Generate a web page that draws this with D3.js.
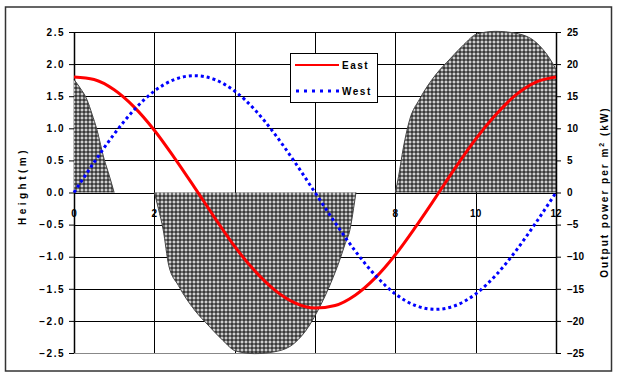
<!DOCTYPE html>
<html>
<head>
<meta charset="utf-8">
<script src="https://cdn.jsdelivr.net/npm/d3@7/dist/d3.min.js"></script>
<style>
  html, body { margin: 0; padding: 0; background: #fff; }
  svg { display: block; }
  .tick text { font-family: "Liberation Sans", Arial, sans-serif; font-size: 10px; font-weight: bold; fill: #000; }
  .left-axis .tick text { letter-spacing: 1.5px; }
</style>
</head>
<body>
<svg id="chart" width="618" height="376"></svg>
<script>
// Tidal heights (m) on the east and west side of the barrage, every half hour
const hours = [0,0.5,1,1.5,2,2.5,3,3.5,4,4.5,5,5.5,6,6.5,7,7.5,8,8.5,9,9.5,10,10.5,11,11.5,12];
const eastHeight = [1.80,1.76,1.60,1.33,0.97,0.54,0.08,-0.39,-0.84,-1.22,-1.52,-1.72,-1.80,-1.76,-1.60,-1.33,-0.97,-0.54,-0.08,0.39,0.83,1.21,1.52,1.72,1.80];
const westHeight = [0,0.47,0.91,1.29,1.58,1.76,1.82,1.76,1.58,1.29,0.91,0.47,0,-0.47,-0.91,-1.29,-1.58,-1.76,-1.82,-1.76,-1.58,-1.29,-0.91,-0.47,0];

// Output power per square metre (kW); null separates the generating periods
const powerHours = [0,0.15,0.32,0.45,0.57,0.75,0.87,1.0,
  null,
  2.0,2.1,2.22,2.36,2.6,3.0,3.36,3.7,4.03,4.5,5.0,5.5,5.85,6.0,6.2,6.4,6.6,6.75,6.87,6.96,7.02,
  null,
  8.0,8.08,8.2,8.36,8.6,9.0,9.36,9.7,10.03,10.5,11.0,11.5,11.85,12.0];
const powerOutput = [17.6,16.3,14.5,12.2,9.8,5.2,2.8,0,
  null,
  0,-2.5,-5.8,-11.4,-14.5,-18.3,-20.8,-23.0,-24.7,-25.1,-24.8,-23.4,-20.8,-19.2,-16.8,-14.0,-10.8,-8.0,-5.8,-2.5,0,
  null,
  0,2.5,7.0,11.4,14.5,18.3,20.8,23.0,24.7,25.1,24.8,23.4,20.8,19.2];

const xTicks = [0,2,4,6,8,10,12];
const heightTicks = [2.5,2.0,1.5,1.0,0.5,0,-0.5,-1.0,-1.5,-2.0,-2.5];
const powerTicks = [25,20,15,10,5,0,-5,-10,-15,-20,-25];
const seriesNames = ["East","West"];

const svg = d3.select("#chart");
const plotLeft = 74, plotRight = 556, plotTop = 32, plotBottom = 353;
const font = "'Liberation Sans', Arial, sans-serif";

const x = d3.scaleLinear().domain([0,12]).range([plotLeft,plotRight]);
const yH = d3.scaleLinear().domain([-2.5,2.5]).range([plotBottom,plotTop]);
const yP = d3.scaleLinear().domain([-25,25]).range([plotBottom,plotTop]);

// outer frame
svg.append("rect").attr("x",5.5).attr("y",7).attr("width",606).attr("height",364)
  .attr("fill","#fff").attr("stroke","#333").attr("stroke-width",1.5);

// cross-hatch pattern for the power area
const defs = svg.append("defs");
const pat = defs.append("pattern").attr("id","hatch").attr("patternUnits","userSpaceOnUse")
  .attr("width",4).attr("height",4);
pat.append("rect").attr("width",4).attr("height",4).attr("fill","#3a3a3a");
pat.append("rect").attr("x",0.5).attr("y",1.5).attr("width",3).attr("height",1).attr("fill","#fff");
pat.append("rect").attr("x",1.5).attr("y",0.5).attr("width",1).attr("height",3).attr("fill","#fff");

// gridlines
const grid = svg.append("g");
grid.selectAll("line.h").data(heightTicks).join("line")
  .attr("x1",plotLeft).attr("x2",plotRight)
  .attr("y1",d => Math.round(yH(d))+0.5).attr("y2",d => Math.round(yH(d))+0.5)
  .attr("stroke",d => d === -2.5 ? "#888" : "#000").attr("stroke-width",1);
grid.selectAll("line.v").data(xTicks).join("line")
  .attr("y1",plotTop).attr("y2",plotBottom)
  .attr("x1",d => Math.round(x(d))+0.5).attr("x2",d => Math.round(x(d))+0.5)
  .attr("stroke","#000").attr("stroke-width",d => (d === 0 || d === 12) ? 1.5 : 1);

// x labels sit just below the zero line
svg.append("g").selectAll("text").data(xTicks).join("text")
  .attr("x",d => x(d)).attr("y",yH(0)+24)
  .attr("text-anchor","middle")
  .style("font-family",font)
  .style("font-size","10px").style("font-weight","bold")
  .text(d => d);

// power area
const powerData = powerHours.map((t,i) => ({t, p: powerOutput[i]}));
const area = d3.area()
  .defined(d => d.t !== null && d.p !== null)
  .x(d => x(d.t)).y0(yP(0)).y1(d => yP(d.p))
  .curve(d3.curveMonotoneX);
const outline = d3.line()
  .defined(d => d.t !== null && d.p !== null)
  .x(d => x(d.t)).y(d => yP(d.p))
  .curve(d3.curveMonotoneX);
svg.append("path").datum(powerData).attr("d",area)
  .attr("fill","url(#hatch)").attr("stroke","none");
svg.append("path").datum(powerData).attr("d",outline)
  .attr("fill","none").attr("stroke","#444").attr("stroke-width",1);

// axes
const yAxisL = d3.axisLeft(yH).tickValues(heightTicks).tickSize(5).tickPadding(4)
  .tickFormat(d3.format(".1f"));
svg.append("g").attr("class","left-axis").attr("transform",`translate(${plotLeft},0)`).call(yAxisL)
  .call(g => g.select(".domain").remove())
  .call(g => g.selectAll(".tick line").attr("stroke","#000"));
const yAxisR = d3.axisRight(yP).tickValues(powerTicks).tickSize(5).tickPadding(6)
  .tickFormat(d3.format("d"));
svg.append("g").attr("transform",`translate(${plotRight},0)`).call(yAxisR)
  .call(g => g.select(".domain").remove())
  .call(g => g.selectAll(".tick line").attr("stroke","#000"));

// height curves
const heightLine = d3.line().x((d,i) => x(hours[i])).y(d => yH(d)).curve(d3.curveMonotoneX);
svg.append("path").datum(eastHeight).attr("d",heightLine)
  .attr("fill","none").attr("stroke","#ff0000").attr("stroke-width",3);
svg.append("path").datum(westHeight).attr("d",heightLine)
  .attr("fill","none").attr("stroke","#0000ff").attr("stroke-width",3)
  .attr("stroke-dasharray","3,3");

// axis titles
svg.append("text").attr("transform","translate(26,186) rotate(-90)")
  .attr("text-anchor","middle")
  .style("font-family",font)
  .style("font-size","10px").style("font-weight","bold")
  .style("letter-spacing","3.5px")
  .text("Height(m)");
const rt = svg.append("text").attr("transform","translate(608,192) rotate(-90)")
  .attr("text-anchor","middle")
  .style("font-family",font)
  .style("font-size","10px").style("font-weight","bold")
  .style("letter-spacing","2px");
rt.append("tspan").text("Output power per m");
rt.append("tspan").attr("dy",-4).style("font-size","7px").text("2");
rt.append("tspan").attr("dy",4).text(" (kW)");

// legend
const lg = svg.append("g");
lg.append("rect").attr("x",290.5).attr("y",53.5).attr("width",87).attr("height",49)
  .attr("fill","#fff").attr("stroke","#000").attr("stroke-width",1);
lg.append("line").attr("x1",295).attr("x2",339).attr("y1",65).attr("y2",65)
  .attr("stroke","#ff0000").attr("stroke-width",2);
lg.append("line").attr("x1",296).attr("x2",340).attr("y1",91).attr("y2",91)
  .attr("stroke","#0000ff").attr("stroke-width",3).attr("stroke-dasharray","3,5");
lg.selectAll("text.lab").data(seriesNames).join("text")
  .attr("x",342).attr("y",(d,i) => i === 0 ? 69 : 95)
  .style("font-family",font)
  .style("font-size","10px").style("font-weight","bold")
  .style("letter-spacing","1.5px")
  .text(d => d);
</script>
</body>
</html>
